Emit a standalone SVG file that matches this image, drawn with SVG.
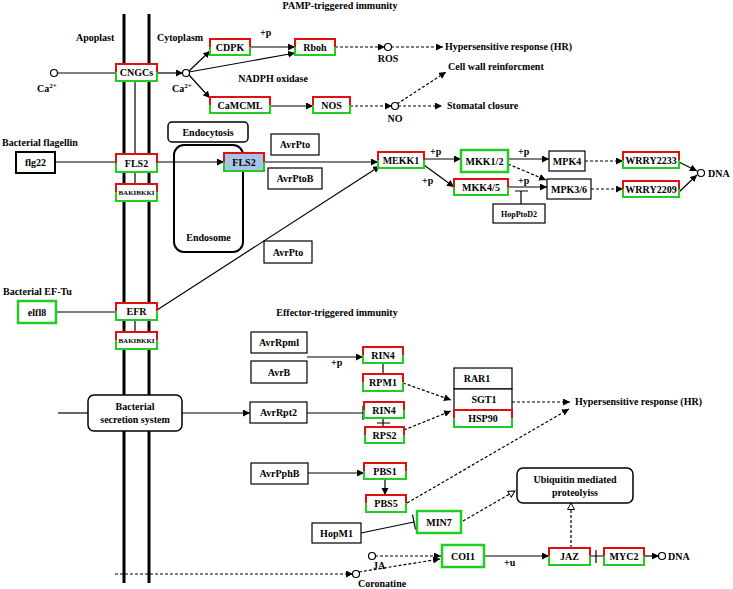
<svg xmlns="http://www.w3.org/2000/svg" width="733" height="589" viewBox="0 0 733 589">
<defs>
<style>
text{font-family:"Liberation Serif","Times New Roman",serif;font-size:10px;font-weight:bold;fill:#000}
.c{text-anchor:middle}
.s7{font-size:7px}
.s8{font-size:8px}
.bx{fill:#fff;stroke:#000;stroke-width:1.2}
.wb{fill:#fff;stroke:none}
.r{fill:none;stroke:#e01010;stroke-width:2}
.g{fill:none;stroke:#22cc22;stroke-width:2}
.gb{fill:#fff;stroke:#22cc22;stroke-width:2.5}
.rb{fill:#fff;stroke:#000;stroke-width:1.5}
.ln{fill:none;stroke:#000;stroke-width:1.2}
.ar{fill:none;stroke:#000;stroke-width:1.2;marker-end:url(#ah)}
.da{fill:none;stroke:#000;stroke-width:1.2;stroke-dasharray:3 2;marker-end:url(#ah)}
.dh{fill:none;stroke:#000;stroke-width:1.2;stroke-dasharray:3 2;marker-end:url(#hh)}
.dl{fill:none;stroke:#000;stroke-width:1.2;stroke-dasharray:3 2}
.cir{fill:#fff;stroke:#000;stroke-width:1.2}
.mem{fill:#000}
</style>
<marker id="ah" markerWidth="8" markerHeight="8" refX="7" refY="3.5" orient="auto" markerUnits="userSpaceOnUse"><path d="M0,0L7,3.5L0,7z" fill="#000"/></marker>
<marker id="hh" markerWidth="9" markerHeight="9" refX="7" refY="4" orient="auto" markerUnits="userSpaceOnUse"><path d="M0.5,0.5L7,4L0.5,7.5z" fill="#fff" stroke="#000" stroke-width="1"/></marker>
</defs>
<rect width="733" height="589" fill="#fff"/>

<g id="membrane">
<rect class="mem" x="122.5" y="14" width="3" height="569"/>
<rect class="mem" x="147.5" y="14" width="3" height="569"/>
</g>

<g id="labels">
<text x="76" y="41">Apoplast</text>
<text x="157" y="41">Cytoplasm</text>
<text class="c" x="340" y="9">PAMP-triggered immunity</text>
<text x="260" y="36">+p</text>
<text class="c" x="388" y="62">ROS</text>
<text x="445" y="50">Hypersensitive response (HR)</text>
<text x="448" y="70">Cell wall reinforcment</text>
<text class="c" x="273" y="82">NADPH oxidase</text>
<text class="c" x="395" y="122">NO</text>
<text x="447" y="109">Stomatal closure</text>
<text x="37" y="92">Ca<tspan class="s7" dy="-4">2+</tspan></text>
<text x="172" y="92">Ca<tspan class="s7" dy="-4">2+</tspan></text>
<text x="2" y="146">Bacterial flagellin</text>
<text x="3" y="295">Bacterial EF-Tu</text>
<text x="430" y="155">+p</text>
<text x="422" y="184">+p</text>
<text x="518" y="155">+p</text>
<text x="518" y="184">+p</text>
<text x="708" y="177">DNA</text>
<text class="c" x="337" y="316">Effector-triggered immunity</text>
<text x="331" y="366">+p</text>
<text x="575" y="405">Hypersensitive response (HR)</text>
<text x="373" y="569">JA</text>
<text x="358" y="587">Coronatine</text>
<text x="504" y="566">+u</text>
<text x="668" y="560">DNA</text>
</g>

<g id="connectors">
<line class="ln" x1="57" y1="73" x2="116" y2="73"/>
<line class="ar" x1="157" y1="73" x2="183" y2="73"/>
<line class="ar" x1="189" y1="71" x2="210" y2="51"/>
<line class="ar" x1="189" y1="75" x2="210" y2="98"/>
<line class="ar" x1="189" y1="72" x2="295" y2="53"/>
<line class="ar" x1="250" y1="47" x2="295" y2="47"/>
<line class="da" x1="335" y1="47" x2="385" y2="47"/>
<line class="da" x1="391" y1="47" x2="443" y2="47"/>
<line class="ar" x1="270" y1="106" x2="313" y2="106"/>
<line class="da" x1="350" y1="106" x2="392" y2="106"/>
<line class="da" x1="397" y1="104" x2="446" y2="72"/>
<line class="da" x1="398" y1="106" x2="442" y2="106"/>
<line class="ln" x1="55" y1="162" x2="116" y2="162"/>
<line class="ar" x1="157" y1="162" x2="224" y2="162"/>
<line class="ar" x1="264" y1="162" x2="378" y2="162"/>
<line class="ar" x1="157" y1="310" x2="380" y2="166"/>
<line class="ln" x1="56" y1="312" x2="116" y2="312"/>
<line class="ln" x1="135" y1="81" x2="135" y2="154"/>
<line class="ln" x1="135" y1="172" x2="135" y2="184"/>
<line class="ln" x1="135" y1="320" x2="135" y2="332"/>
<line class="ar" x1="424" y1="159" x2="461" y2="159"/>
<line class="ar" x1="424" y1="165" x2="454" y2="187"/>
<line class="ar" x1="508" y1="159" x2="549" y2="159"/>
<line class="da" x1="508" y1="164" x2="546" y2="180"/>
<line class="ar" x1="508" y1="187" x2="547" y2="187"/>
<path class="ln" d="M521,204V191M515,191H528"/>
<line class="da" x1="585" y1="161" x2="623" y2="161"/>
<line class="da" x1="591" y1="189" x2="623" y2="189"/>
<line class="ar" x1="679" y1="162" x2="697" y2="171"/>
<line class="ar" x1="679" y1="192" x2="697" y2="175"/>
<line class="ln" x1="58" y1="413" x2="88" y2="413"/>
<line class="ar" x1="182" y1="413" x2="250" y2="413"/>
<line class="ar" x1="307" y1="357" x2="363" y2="357"/>
<line class="ln" x1="383" y1="363" x2="383" y2="374"/>
<line class="da" x1="403" y1="383" x2="451" y2="400"/>
<path class="ln" d="M307,413H363M363,406V420"/>
<path class="ln" d="M383,418V427M377,423H390"/>
<line class="da" x1="404" y1="430" x2="451" y2="411"/>
<line class="da" x1="512" y1="402" x2="570" y2="402"/>
<line class="da" x1="407" y1="503" x2="569" y2="409"/>
<line class="ar" x1="308" y1="473" x2="364" y2="473"/>
<line class="ar" x1="385" y1="479" x2="385" y2="495"/>
<path class="ln" d="M361,533L414,522M412.5,514.7L415.5,529.3"/>
<line class="dh" x1="463" y1="521" x2="515" y2="491"/>
<line class="da" x1="375" y1="556" x2="441" y2="556"/>
<line class="da" x1="359" y1="572" x2="440" y2="559"/>
<line class="da" x1="115" y1="574" x2="353" y2="574"/>
<line class="ar" x1="484" y1="556" x2="549" y2="556"/>
<line class="dh" x1="571" y1="548" x2="571" y2="503"/>
<path class="ln" d="M590,556H604M596,550V563"/>
<line class="ar" x1="644" y1="556" x2="659" y2="556"/>
<circle class="cir" cx="54" cy="73" r="3.5"/>
<circle class="cir" cx="186" cy="73" r="3.5"/>
<circle class="cir" cx="388" cy="47" r="3.5"/>
<circle class="cir" cx="395" cy="106" r="3.5"/>
<circle class="cir" cx="701" cy="173" r="3.5"/>
<circle class="cir" cx="372" cy="556" r="3.5"/>
<circle class="cir" cx="356" cy="574" r="3.5"/>
<circle class="cir" cx="662" cy="556" r="3.5"/>
</g>

<g id="CNGCs"><rect class="wb" x="116" y="64" width="41" height="17"/><path class="r" d="M116,72.5V64H157V72.5"/><path class="g" d="M116,72.5V81H157V72.5"/><text class="c" x="136.5" y="76">CNGCs</text></g>
<g id="CDPK"><rect class="wb" x="210" y="39" width="40" height="16"/><path class="r" d="M210,47V39H250V47"/><path class="g" d="M210,47V55H250V47"/><text class="c" x="230" y="50.5">CDPK</text></g>
<g id="Rboh"><rect class="wb" x="295" y="39" width="40" height="16"/><path class="r" d="M295,47V39H335V47"/><path class="g" d="M295,47V55H335V47"/><text class="c" x="315" y="50.5">Rboh</text></g>
<g id="CaMCML"><rect class="wb" x="210" y="97" width="60" height="16"/><path class="r" d="M210,105V97H270V105"/><path class="g" d="M210,105V113H270V105"/><text class="c" x="240" y="108.5">CaMCML</text></g>
<g id="NOS"><rect class="wb" x="313" y="97" width="37" height="16"/><path class="r" d="M313,105V97H350V105"/><path class="g" d="M313,105V113H350V105"/><text class="c" x="331.5" y="108.5">NOS</text></g>

<g id="flg22"><rect x="16" y="152" width="39" height="21" fill="#fff" stroke="#000" stroke-width="2"/><text class="c" x="35.5" y="166">flg22</text></g>
<g id="FLS2"><rect class="wb" x="116" y="154" width="41" height="18"/><path class="r" d="M116,163V154H157V163"/><path class="g" d="M116,163V172H157V163"/><text class="c" x="136.5" y="166.5">FLS2</text></g>
<g id="BAK1a"><rect class="wb" x="116" y="184" width="41" height="17"/><path class="r" d="M116,192.5V184H157V192.5"/><path class="g" d="M116,192.5V201H157V192.5"/><text class="c s7" x="136.5" y="195">BAKIBKKI</text></g>
<g id="Endocytosis"><rect class="rb" x="168" y="122" width="80" height="20" rx="4"/><text class="c" x="208" y="135.5">Endocytosis</text></g>
<g id="Endosome"><rect x="174" y="145" width="69" height="107" rx="10" fill="none" stroke="#000" stroke-width="2"/><text class="c" x="208.5" y="241">Endosome</text></g>
<g id="FLS2b"><rect x="224" y="153" width="40" height="18" fill="#a6c3e8"/><path class="r" d="M224,162V153H264V162"/><path class="g" d="M224,162V171H264V162"/><text class="c" x="244" y="165.5">FLS2</text></g>
<g id="AvrPto"><rect class="bx" x="271" y="134" width="48" height="21"/><text class="c" x="295" y="148">AvrPto</text></g>
<g id="AvrPtoB"><rect class="bx" x="268" y="168" width="54" height="21"/><text class="c" x="295" y="182">AvrPtoB</text></g>
<g id="AvrPto2"><rect class="bx" x="264" y="241" width="48" height="22"/><text class="c" x="288" y="255.5">AvrPto</text></g>
<g id="MEKK1"><rect class="wb" x="378" y="152" width="46" height="16"/><path class="r" d="M378,160V152H424V160"/><path class="g" d="M378,160V168H424V160"/><text class="c" x="401" y="163.5">MEKK1</text></g>
<g id="MKK12"><rect class="gb" x="461" y="150" width="47" height="22"/><text class="c" x="484.5" y="164.5">MKK1/2</text></g>
<g id="MKK45"><rect class="wb" x="454" y="179" width="54" height="16"/><path class="r" d="M454,187V179H508V187"/><path class="g" d="M454,187V195H508V187"/><text class="c" x="481" y="190.5">MKK4/5</text></g>
<g id="MPK4"><rect class="bx" x="549" y="151" width="36" height="20"/><text class="c" x="567" y="164.5">MPK4</text></g>
<g id="MPK36"><rect class="bx" x="547" y="179" width="44" height="20"/><text class="c" x="569" y="192.5">MPK3/6</text></g>
<g id="HopPtoD2"><rect class="bx" x="493" y="204" width="52" height="19"/><text class="c s8" x="519" y="216.5">HopPtoD2</text></g>
<g id="WRRY2233"><rect class="wb" x="623" y="152" width="56" height="16"/><path class="r" d="M623,160V152H679V160"/><path class="g" d="M623,160V168H679V160"/><text class="c" x="651" y="163.5">WRRY2233</text></g>
<g id="WRRY2209"><rect class="wb" x="623" y="181" width="56" height="16"/><path class="r" d="M623,189V181H679V189"/><path class="g" d="M623,189V197H679V189"/><text class="c" x="651" y="192.5">WRRY2209</text></g>

<g id="elf18"><rect class="gb" x="18" y="301" width="38" height="22"/><text class="c" x="37" y="315.5">elfl8</text></g>
<g id="EFR"><rect class="wb" x="116" y="303" width="41" height="17"/><path class="r" d="M116,311.5V303H157V311.5"/><path class="g" d="M116,311.5V320H157V311.5"/><text class="c" x="136.5" y="315">EFR</text></g>
<g id="BAK1b"><rect class="wb" x="116" y="332" width="41" height="17"/><path class="r" d="M116,340.5V332H157V340.5"/><path class="g" d="M116,340.5V349H157V340.5"/><text class="c s7" x="136.5" y="343">BAKIBKKI</text></g>
<g id="secretion"><rect class="rb" x="88" y="395" width="94" height="36" rx="6"/><text class="c" x="135" y="410">Bacterial</text><text class="c" x="135" y="423">secretion system</text></g>

<g id="AvrRpml"><rect class="bx" x="251" y="332" width="56" height="21"/><text class="c" x="279" y="346">AvrRpml</text></g>
<g id="AvrB"><rect class="bx" x="251" y="361" width="56" height="22"/><text class="c" x="279" y="375.5">AvrB</text></g>
<g id="AvrRpt2"><rect class="bx" x="250" y="402" width="57" height="21"/><text class="c" x="278.5" y="416">AvrRpt2</text></g>
<g id="RIN4a"><rect class="wb" x="363" y="347" width="40" height="16"/><path class="r" d="M363,355V347H403V355"/><path class="g" d="M363,355V363H403V355"/><text class="c" x="383" y="358.5">RIN4</text></g>
<g id="RPM1"><rect class="wb" x="363" y="374" width="40" height="17"/><path class="r" d="M363,382.5V374H403V382.5"/><path class="g" d="M363,382.5V391H403V382.5"/><text class="c" x="383" y="386">RPM1</text></g>
<g id="RIN4b"><rect class="wb" x="364" y="402" width="40" height="16"/><path class="r" d="M364,410V402H404V410"/><path class="g" d="M364,410V418H404V410"/><text class="c" x="384" y="413.5">RIN4</text></g>
<g id="RPS2"><rect class="wb" x="365" y="427" width="39" height="16"/><path class="r" d="M365,435V427H404V435"/><path class="g" d="M365,435V443H404V435"/><text class="c" x="384.5" y="438.5">RPS2</text></g>
<g id="RAR1"><rect class="bx" x="454" y="368" width="58" height="21"/><text class="c" x="477" y="382">RAR1</text></g>
<g id="SGT1"><rect class="bx" x="454" y="389" width="58" height="21"/><text class="c" x="484" y="403">SGT1</text></g>
<g id="HSP90"><rect class="wb" x="454" y="410" width="58" height="17"/><path class="r" d="M454,418.5V410H512V418.5"/><path class="g" d="M454,418.5V427H512V418.5"/><text class="c" x="483" y="422">HSP90</text></g>

<g id="AvrPphB"><rect class="bx" x="251" y="463" width="57" height="21"/><text class="c" x="279.5" y="477">AvrPphB</text></g>
<g id="PBS1"><rect class="wb" x="364" y="463" width="42" height="16"/><path class="r" d="M364,471V463H406V471"/><path class="g" d="M364,471V479H406V471"/><text class="c" x="385" y="474.5">PBS1</text></g>
<g id="PBS5"><rect class="wb" x="366" y="495" width="40" height="17"/><path class="r" d="M366,503.5V495H406V503.5"/><path class="g" d="M366,503.5V512H406V503.5"/><text class="c" x="386" y="507">PBS5</text></g>
<g id="HopM1"><rect class="bx" x="312" y="523" width="49" height="20"/><text class="c" x="336.5" y="536.5">HopM1</text></g>
<g id="MIN7"><rect class="gb" x="417" y="511" width="44" height="22"/><text class="c" x="439" y="525.5">MIN7</text></g>
<g id="COI1"><rect class="gb" x="442" y="545" width="42" height="22"/><text class="c" x="463" y="559.5">COI1</text></g>
<g id="Ubiquitin"><rect class="rb" x="517" y="468" width="116" height="35" rx="6"/><text class="c" x="575" y="483">Ubiquitin mediated</text><text class="c" x="575" y="496">proteolyiss</text></g>
<g id="JAZ"><rect class="wb" x="549" y="548" width="41" height="17"/><path class="r" d="M549,556.5V548H590V556.5"/><path class="g" d="M549,556.5V565H590V556.5"/><text class="c" x="569.5" y="560">JAZ</text></g>
<g id="MYC2"><rect class="wb" x="604" y="548" width="40" height="17"/><path class="r" d="M604,556.5V548H644V556.5"/><path class="g" d="M604,556.5V565H644V556.5"/><text class="c" x="624" y="560">MYC2</text></g>
</svg>
